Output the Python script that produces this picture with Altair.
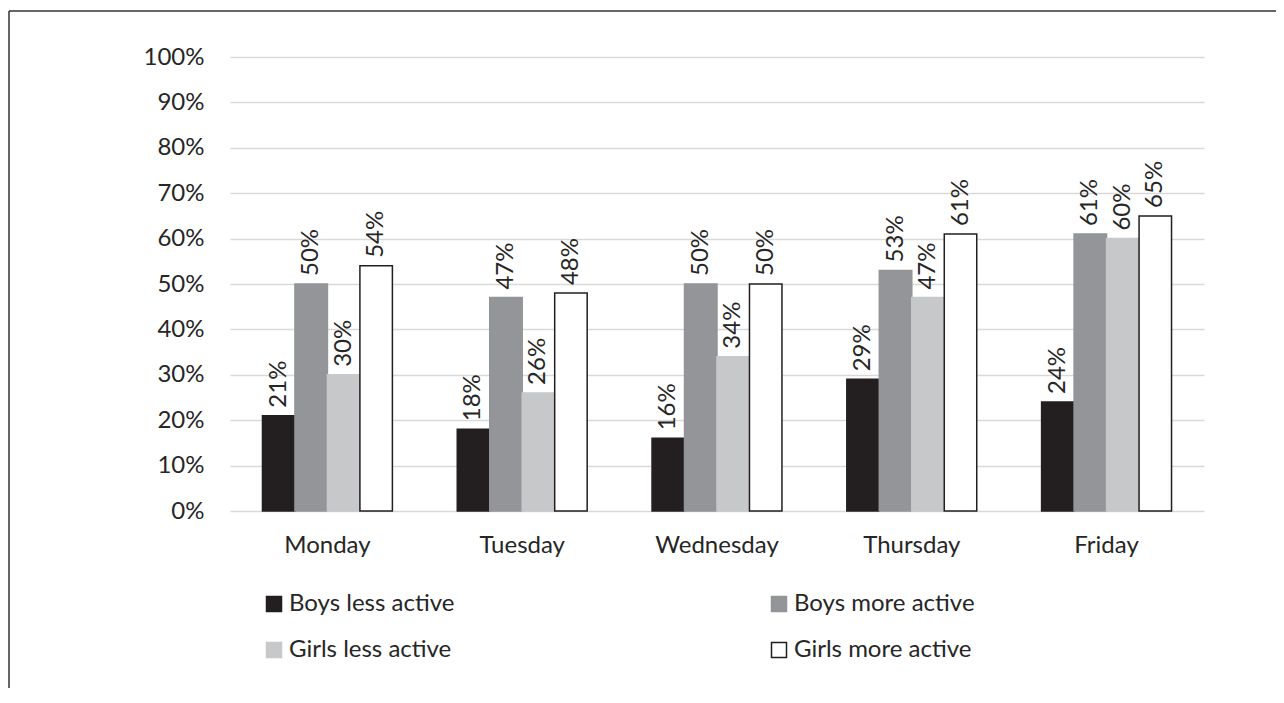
import altair as alt
import pandas as pd

days = ["Monday", "Tuesday", "Wednesday", "Thursday", "Friday"]
series = ["Boys less active", "Boys more active", "Girls less active", "Girls more active"]
boys_less = [0.21, 0.18, 0.16, 0.29, 0.24]
boys_more = [0.50, 0.47, 0.50, 0.53, 0.61]
girls_less = [0.30, 0.26, 0.34, 0.47, 0.60]
girls_more = [0.54, 0.48, 0.50, 0.61, 0.65]

fills = ["#231f20", "#939598", "#c7c8ca", "#ffffff"]
strokes = ["#231f20", "#939598", "#c7c8ca", "#231f20"]

rows = []
for vals, s in zip([boys_less, boys_more, girls_less, girls_more], series):
    for d, v in zip(days, vals):
        rows.append({"Day": d, "Series": s, "Value": v})
df = pd.DataFrame(rows)

FONT = "Lato"
TXT = "#262626"
W, H = 974, 454
PAD = {"left": 222, "top": 49, "right": 72, "bottom": 177}

base = alt.Chart(df)

x_enc = alt.X("Day:N", sort=days,
              scale=alt.Scale(paddingInner=0.333, paddingOuter=0.1667),
              axis=alt.Axis(title=None, labelAngle=0, labelFontSize=24, labelFont=FONT,
                            labelColor=TXT, ticks=False, domain=False, labelPadding=22,
                            grid=False))
xo_enc = alt.XOffset("Series:N", sort=series, scale=alt.Scale(paddingInner=0, paddingOuter=0))
y_enc = alt.Y("Value:Q", scale=alt.Scale(domain=[0, 1], nice=False),
              axis=alt.Axis(title=None, format=".0%", values=[i / 10 for i in range(11)],
                            labelFontSize=24, labelFont=FONT, labelColor=TXT, ticks=False,
                            domain=False, labelPadding=26, gridColor="#d9d9d9",
                            gridWidth=1.5))

bars = base.mark_bar(strokeWidth=1.5).encode(
    x=x_enc,
    xOffset=xo_enc,
    y=y_enc,
    fill=alt.Fill("Series:N", sort=series,
                  scale=alt.Scale(domain=series, range=fills),
                  legend=alt.Legend(title=None, orient="none", legendX=32, legendY=535,
                                    direction="horizontal",
                                    columns=2, columnPadding=312, rowPadding=22,
                                    symbolType="square", symbolSize=225,
                                    symbolStrokeWidth=1.5, labelFontSize=24,
                                    labelFont=FONT, labelColor=TXT, labelOffset=3,
                                    padding=0, labelLimit=400)),
    stroke=alt.Stroke("Series:N", sort=series,
                      scale=alt.Scale(domain=series, range=strokes),
                      legend=None),
)

labels = base.mark_text(angle=270, align="left", baseline="middle", dx=8,
                        fontSize=24, font=FONT, color=TXT).encode(
    x=alt.X("Day:N", sort=days),
    xOffset=alt.XOffset("Series:N", sort=series),
    y=alt.Y("Value:Q"),
    text=alt.Text("Value:Q", format=".0%"),
)

frame_top = alt.Chart(pd.DataFrame({"a": [0]})).mark_rule(color="#333333", strokeWidth=1.5).encode(
    x=alt.value(-221), x2=alt.value(W + PAD["right"]), y=alt.value(-46))
frame_left = alt.Chart(pd.DataFrame({"a": [0]})).mark_rule(color="#333333", strokeWidth=1.5).encode(
    x=alt.value(-221), y=alt.value(-46), y2=alt.value(H + PAD["bottom"]))

chart = alt.layer(bars, labels, frame_top, frame_left).properties(
    width=W, height=H,
    autosize=alt.AutoSizeParams(type="none"),
    padding=PAD,
    background="white",
).configure_view(strokeWidth=0, stroke="transparent")

chart.save("out.html", embed_options={"renderer": "svg", "actions": False})
